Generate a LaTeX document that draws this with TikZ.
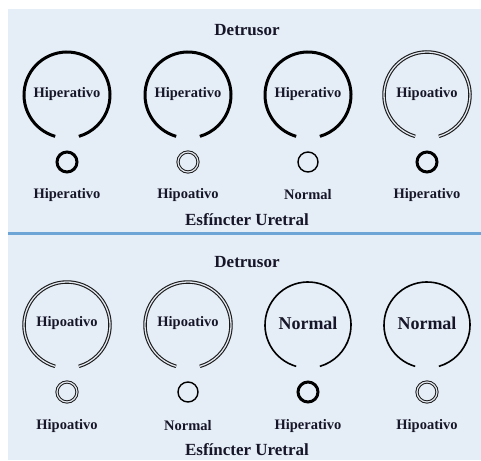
\documentclass[tikz,border=0pt]{standalone}
\usepackage{fontspec}
\setmainfont{Liberation Serif}
\definecolor{panelbg}{RGB}{229,238,247}
\definecolor{sepline}{RGB}{110,165,215}
\definecolor{ink}{RGB}{22,22,40}
\definecolor{gapfill}{RGB}{225,230,238}
\tikzset{
  hiper/.style={draw=black,line width=3pt},
  normalw/.style={draw=black,line width=1.6pt},
  hipo/.style={draw=black!90,line width=1.1pt,double=gapfill,double distance=1.3pt},
  sphhiper/.style={draw=black,line width=3pt},
  sphnormal/.style={draw=black,line width=1.4pt},
  sphhipo/.style={draw=black!90,line width=1.0pt,double=gapfill,double distance=1.2pt},
  title/.style={text=ink,font=\fontsize{17}{19}\selectfont\bfseries},
  lab/.style={text=ink,font=\fontsize{14.5}{16}\selectfont\bfseries},
  biglab/.style={text=ink,font=\fontsize{18}{20}\selectfont\bfseries},
}
\begin{document}
\begin{tikzpicture}[x=1pt,y=-1pt]
\useasboundingbox (0,0) rectangle (481,460);
\fill[panelbg] (8,9) rectangle (481,460);
\coordinate (sepL) at (8,233.5);
\coordinate (sepR) at (481,233.5);
\draw[sepline,line width=2.5pt] (sepL) -- (sepR);

% ---------- top panel ----------
\node[title] (dt1) at (247,30) {Detrusor};
\node[title] (es1) at (247,220) {Esfíncter Uretral};
\foreach \n/\x/\ds/\il/\ss/\bl in {
  a/67/hiper/Hiperativo/sphhiper/Hiperativo,
  b/188/hiper/Hiperativo/sphhipo/Hipoativo,
  c/308/hiper/Hiperativo/sphnormal/Normal,
  d/427/hipo/Hipoativo/sphhiper/Hiperativo}{
  \coordinate (tc\n) at (\x,95);
  \draw[\ds] ([shift={(106:43)}]tc\n) arc[start angle=106,end angle=434,radius=43];
  \node[lab] (ti\n) at (\x,94) {\il};
  \node[draw=none,circle,minimum size=20pt,inner sep=0pt,\ss] (ts\n) at (\x,162) {};
  \node[lab] (tb\n) at (\x,195) {\bl};
}

% ---------- bottom panel ----------
\node[title] (dt2) at (247,262) {Detrusor};
\node[title] (es2) at (247,450) {Esfíncter Uretral};
\foreach \n/\x/\ds/\il/\ls/\ss/\bl in {
  a/67/hipo/Hipoativo/lab/sphhipo/Hipoativo,
  b/188/hipo/Hipoativo/lab/sphnormal/Normal,
  c/308/normalw/Normal/biglab/sphhiper/Hiperativo,
  d/427/normalw/Normal/biglab/sphhipo/Hipoativo}{
  \coordinate (bc\n) at (\x,325);
  \draw[\ds] ([shift={(106:43)}]bc\n) arc[start angle=106,end angle=434,radius=43];
  \node[\ls] (bi\n) at (\x,323) {\il};
  \node[draw=none,circle,minimum size=20pt,inner sep=0pt,\ss] (bs\n) at (\x,392) {};
  \node[lab] (bb\n) at (\x,426) {\bl};
}
\end{tikzpicture}
\end{document}
